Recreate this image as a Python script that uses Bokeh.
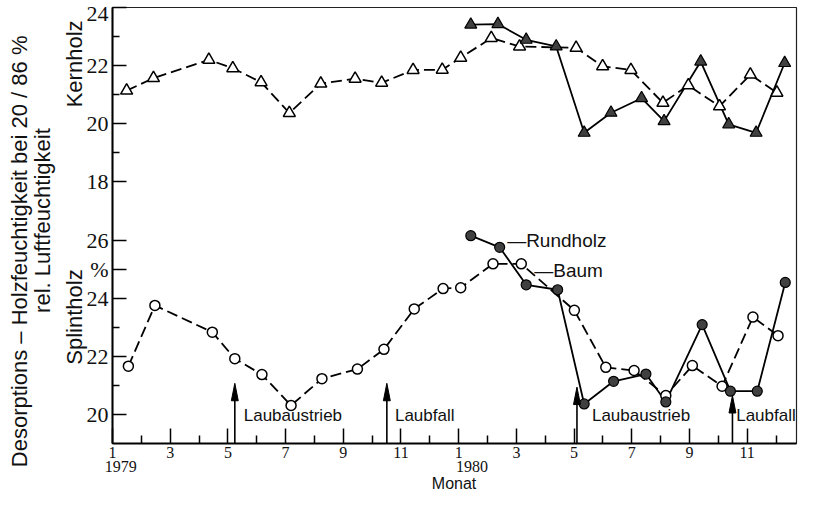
from bokeh.plotting import figure
from bokeh.models import FixedTicker, Label, Range1d, LinearAxis
from bokeh.embed import file_html
from bokeh.resources import INLINE

# ---------------- data (month index: 1 = Jan 1979, 13 = Jan 1980) ----------------
# Kernholz (heartwood)
MONTH_KERN_BAUM = [1.49, 2.42, 4.34, 5.17, 6.15, 7.13, 8.22, 9.41, 10.33, 11.42, 12.43,
                   13.07, 14.13, 15.11, 17.07, 17.99, 18.97, 20.08, 20.96, 22.04, 23.11, 24.03]
KERN_BAUM = [21.14, 21.57, 22.20, 21.91, 21.43, 20.37, 21.38, 21.55, 21.41, 21.85, 21.86,
             22.27, 22.95, 22.66, 22.61, 21.98, 21.85, 20.72, 21.32, 20.60, 21.69, 21.07]
MONTH_KERN_RUND = [13.42, 14.36, 15.34, 16.38, 17.35, 18.28, 19.34, 20.12, 21.39, 22.36, 23.31, 24.30]
KERN_RUND = [23.41, 23.43, 22.89, 22.66, 19.69, 20.38, 20.88, 20.09, 22.14, 19.98, 19.69, 22.09]

# Splintholz (sapwood)
MONTH_SPLINT_BAUM = [1.55, 2.47, 4.46, 5.24, 6.18, 7.19, 8.26, 9.49, 10.41, 11.46, 12.46,
                     13.07, 14.19, 15.17, 17.01, 18.10, 19.08, 20.18, 21.10, 22.13, 23.20, 24.07]
SPLINT_BAUM = [21.66, 23.75, 22.83, 21.92, 21.37, 20.31, 21.23, 21.56, 22.24, 23.63, 24.33,
               24.36, 25.18, 25.18, 23.58, 21.62, 21.51, 20.65, 21.68, 20.97, 23.35, 22.71]
MONTH_SPLINT_RUND = [13.42, 14.42, 15.34, 16.43, 17.35, 18.37, 19.49, 20.18, 21.44, 22.42, 23.35, 24.32]
SPLINT_RUND = [26.15, 25.75, 24.46, 24.29, 20.36, 21.14, 21.39, 20.43, 23.09, 20.80, 20.80, 24.54]

# Events (arrows)
EVENT_MONTH = [5.24, 10.51, 17.10, 22.49]
EVENT_TIP = [21.07, 21.07, 20.94, 20.65]          # Splintholz scale
EVENT_TEXT = ["Laubaustrieb", "Laubfall", "Laubaustrieb", "Laubfall"]
EVENT_TEXT_MONTH = [5.55, 10.79, 17.62, 22.62]

# Axis ticks
X_MAJOR = [1, 3, 5, 7, 9, 11, 13, 15, 17, 19, 21, 23]
X_MINOR = [2, 4, 6, 8, 10, 12, 14, 16, 18, 20, 22, 24]
X_LABELS = ["1", "3", "5", "7", "9", "11", "1", "3", "5", "7", "9", "11"]
YEARS = ["1979", "1980"]
YEAR_LABEL_MONTH = [1.29, 13.46]
X_TITLE = "Monat"
X_TITLE_MONTH = 12.84

KERN_MAJOR = [24, 22, 20, 18]
KERN_MINOR = [23, 21, 19]
SPLINT_MAJOR = [26, 24, 22, 20]
SPLINT_MINOR = [23, 21]
PERCENT_AT = 25          # "%" sign sits at the 25 mark of the sapwood scale
SPLINT_OFFSET = 10       # sapwood panel drawn 10 units below heartwood panel

# Left-side captions (placed at heights on the combined y scale)
KERN_CAPTION_Y = 22.06
SPLINT_CAPTION_Y = 13.35
TITLE2_Y = 16.67
TITLE1_Y = 15.61

FONT = "Liberation Sans"
NARROW = "Liberation Sans Narrow"
INK = "#111111"


def s(vals):
    return [v - SPLINT_OFFSET for v in vals]


p = figure(width=798, height=506, output_backend="svg", toolbar_location=None,
           x_range=Range1d(1, 24.71), y_range=Range1d(9, 24),
           min_border_left=112, min_border_right=2, min_border_top=7, min_border_bottom=63)
p.grid.visible = False
p.background_fill_color = "white"
p.border_fill_color = "white"
p.outline_line_color = "#222222"
p.outline_line_width = 1.2

# ---- x axis (months)
p.xaxis.ticker = FixedTicker(ticks=X_MAJOR, minor_ticks=X_MINOR)
p.xaxis.major_label_overrides = {t: l for t, l in zip(X_MAJOR, X_LABELS)}
p.xaxis.major_tick_in = 15
p.xaxis.major_tick_out = 0
p.xaxis.minor_tick_in = 8
p.xaxis.minor_tick_out = 0
p.xaxis.axis_line_width = 2
p.xaxis.major_tick_line_width = 1.5
p.xaxis.minor_tick_line_width = 1.5
p.xaxis.major_label_text_font = NARROW
p.xaxis.major_label_text_font_size = "16px"
p.xaxis.major_label_text_color = INK
p.xaxis.major_label_standoff = 3


def text_axis(ticks, labels, standoff, font, size, vertical=False):
    ax = LinearAxis(ticker=FixedTicker(ticks=ticks, minor_ticks=[]),
                    major_label_overrides={t: l for t, l in zip(ticks, labels)},
                    axis_line_color=None, major_tick_line_color=None,
                    minor_tick_line_color=None,
                    major_tick_in=0, major_tick_out=0, minor_tick_in=0, minor_tick_out=0,
                    major_label_standoff=standoff,
                    major_label_text_font=font, major_label_text_font_size=size,
                    major_label_text_color=INK)
    if vertical:
        ax.major_label_orientation = "vertical"
    return ax


# ---- year row and "Monat" row
p.add_layout(text_axis(YEAR_LABEL_MONTH, YEARS, 0, NARROW, "16px"), "below")
p.add_layout(text_axis([X_TITLE_MONTH], [X_TITLE], 0, FONT, "16px"), "below")

# ---- y axis (broken: heartwood above, sapwood below)
y_major = KERN_MAJOR + s(SPLINT_MAJOR) + [PERCENT_AT - SPLINT_OFFSET]
y_labels = [str(v) for v in KERN_MAJOR + SPLINT_MAJOR] + ["%"]
y_minor = KERN_MINOR + s(SPLINT_MINOR)
p.yaxis.ticker = FixedTicker(ticks=y_major, minor_ticks=y_minor)
p.yaxis.major_label_overrides = {t: l for t, l in zip(y_major, y_labels)}
p.yaxis.major_tick_in = 14
p.yaxis.major_tick_out = 0
p.yaxis.minor_tick_in = 7
p.yaxis.minor_tick_out = 0
p.yaxis.axis_line_width = 2
p.yaxis.major_tick_line_width = 1.5
p.yaxis.minor_tick_line_width = 1.5
p.yaxis.major_label_text_font = NARROW
p.yaxis.major_label_text_font_size = "22px"
p.yaxis.major_label_text_color = INK
p.yaxis.major_label_standoff = 4

p.add_layout(text_axis([KERN_CAPTION_Y, SPLINT_CAPTION_Y], ["Kernholz", "Splintholz"],
                       -4, FONT, "22px", vertical=True), "left")
p.add_layout(text_axis([TITLE2_Y], ["rel. Luftfeuchtigkeit"], 4, FONT, "22px",
                       vertical=True), "left")
p.add_layout(text_axis([TITLE1_Y], ["Desorptions \u2013 Holzfeuchtigkeit bei 20 / 86 %"], -5,
                       FONT, "22px", vertical=True), "left")

GRAY = "#404040"

# ---- heartwood
p.line(MONTH_KERN_BAUM, KERN_BAUM, line_color="black", line_width=1.8, line_dash="11 5")
p.line(MONTH_KERN_RUND, KERN_RUND, line_color="black", line_width=1.8)
p.scatter(MONTH_KERN_BAUM, KERN_BAUM, marker="triangle", size=12, fill_color="white",
          line_color="black", line_width=1.5)
p.scatter(MONTH_KERN_RUND, KERN_RUND, marker="triangle", size=12, fill_color=GRAY,
          line_color="black", line_width=1.2)

# ---- sapwood
p.line(MONTH_SPLINT_BAUM, s(SPLINT_BAUM), line_color="black", line_width=1.8, line_dash="11 5")
p.line(MONTH_SPLINT_RUND, s(SPLINT_RUND), line_color="black", line_width=1.8)
p.scatter(MONTH_SPLINT_BAUM, s(SPLINT_BAUM), marker="circle", size=10, fill_color="white",
          line_color="black", line_width=1.5)
p.scatter(MONTH_SPLINT_RUND, s(SPLINT_RUND), marker="circle", size=10, fill_color=GRAY,
          line_color="black", line_width=1.2)

# ---- event arrows
HEAD_HALF_W = 0.12   # months
HEAD_LEN = 0.6       # y units
base = p.y_range.start
p.segment(x0=EVENT_MONTH, y0=[base] * len(EVENT_MONTH), x1=EVENT_MONTH,
          y1=[v - SPLINT_OFFSET - HEAD_LEN * 0.5 for v in EVENT_TIP],
          line_color="black", line_width=1.6)
p.patches(xs=[[m - HEAD_HALF_W, m, m + HEAD_HALF_W] for m in EVENT_MONTH],
          ys=[[v - SPLINT_OFFSET - HEAD_LEN, v - SPLINT_OFFSET, v - SPLINT_OFFSET - HEAD_LEN]
              for v in EVENT_TIP],
          fill_color="black", line_color="black", line_width=1)
for m, t in zip(EVENT_TEXT_MONTH, EVENT_TEXT):
    p.add_layout(Label(x=m, y=19.97 - SPLINT_OFFSET, text=t, text_font=FONT,
                       text_font_size="17px", text_align="left", text_baseline="middle",
                       text_color=INK))

# ---- series labels
p.add_layout(Label(x=14.68, y=25.98 - SPLINT_OFFSET, text="\u2014Rundholz", text_font=FONT,
                   text_font_size="19px", text_align="left", text_baseline="middle",
                   text_color=INK))
p.add_layout(Label(x=15.62, y=24.94 - SPLINT_OFFSET, text="\u2014Baum", text_font=FONT,
                   text_font_size="19px", text_align="left", text_baseline="middle",
                   text_color=INK))

open("out.html", "w").write(file_html(p, INLINE))
